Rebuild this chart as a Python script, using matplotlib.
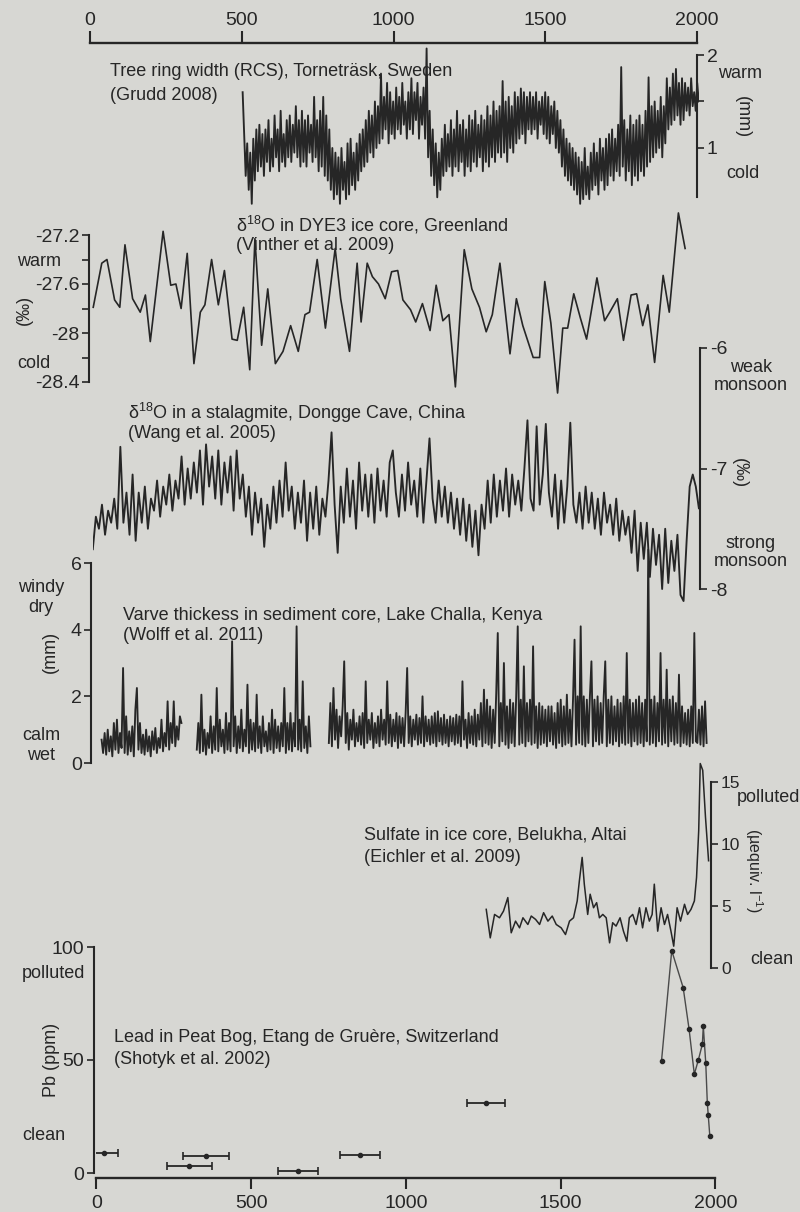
import numpy as np
import matplotlib
matplotlib.use("Agg")
import matplotlib.pyplot as plt

plt.rcParams['font.family'] = ['Liberation Sans', 'DejaVu Sans']
plt.rcParams['mathtext.fontset'] = 'custom'
plt.rcParams['mathtext.rm'] = 'Liberation Sans'
plt.rcParams['mathtext.it'] = 'Liberation Sans'

INK = '#262626'
BG = '#d7d7d3'

# ---------------- data ----------------
# Tree ring width (mm), Tornetrask, 5-year steps 500..2000
tree_years = list(range(500, 2001, 5))
tree_vals = [
    1.60, 1.15, 0.70, 1.05, 0.55, 0.95, 0.40, 1.10, 0.65, 1.20,
    0.75, 1.25, 0.80, 1.15, 0.70, 1.20, 0.85, 1.30, 0.75, 1.10,
    0.80, 1.35, 0.90, 1.20, 0.75, 1.40, 0.85, 1.15, 0.80, 1.30,
    0.90, 1.35, 0.85, 1.25, 0.95, 1.45, 0.90, 1.30, 0.80, 1.40,
    0.85, 1.30, 0.80, 1.35, 0.95, 1.25, 0.85, 1.55, 0.90, 1.30,
    0.75, 1.40, 0.80, 1.55, 0.70, 1.35, 0.65, 1.20, 0.55, 1.00,
    0.45, 0.95, 0.50, 0.90, 0.40, 1.00, 0.55, 0.85, 0.45, 1.05,
    0.50, 1.10, 0.60, 0.95, 0.55, 1.05, 0.65, 1.15, 0.75, 1.20,
    0.80, 1.30, 0.85, 1.40, 0.95, 1.35, 0.90, 1.50, 1.00, 1.45,
    1.05, 1.80, 1.10, 1.55, 1.20, 1.70, 1.05, 1.60, 1.15, 1.50,
    1.10, 1.65, 1.20, 1.55, 1.15, 1.70, 1.25, 1.50, 1.10, 1.60,
    1.20, 1.75, 1.15, 1.60, 1.30, 1.70, 1.10, 1.55, 1.25, 1.65,
    1.10, 2.07, 0.90, 1.40, 0.70, 1.20, 0.60, 1.05, 0.47, 0.95,
    0.55, 1.10, 0.70, 1.25, 0.75, 1.15, 0.80, 1.30, 0.70, 1.20,
    0.80, 1.40, 0.75, 1.25, 0.85, 1.30, 0.70, 1.20, 0.80, 1.35,
    0.75, 1.30, 0.85, 1.40, 0.80, 1.25, 0.90, 1.35, 0.75, 1.30,
    0.85, 1.45, 0.80, 1.35, 0.90, 1.50, 0.85, 1.40, 0.95, 1.45,
    0.90, 1.72, 0.95, 1.50, 0.85, 1.55, 1.00, 1.45, 0.95, 1.60,
    1.05, 1.55, 1.10, 1.64, 1.15, 1.60, 1.05, 1.55, 1.20, 1.60,
    1.15, 1.55, 1.20, 1.60, 1.10, 1.50, 1.25, 1.55, 1.15, 1.60,
    1.10, 1.55, 1.05, 1.45, 1.15, 1.50, 1.00, 1.40, 0.95, 1.30,
    0.80, 1.20, 0.70, 1.10, 0.65, 1.05, 0.60, 1.00, 0.55, 0.95,
    0.50, 0.90, 0.40, 0.85, 0.45, 1.00, 0.50, 0.80, 0.45, 0.95,
    0.55, 1.05, 0.60, 0.95, 0.50, 1.10, 0.65, 1.00, 0.55, 1.10,
    0.60, 1.15, 0.70, 1.20, 0.65, 1.10, 0.75, 1.25, 0.70, 1.87,
    0.80, 1.30, 0.65, 1.20, 0.75, 1.35, 0.60, 1.25, 0.70, 1.30,
    0.65, 1.35, 0.75, 1.25, 0.70, 1.40, 0.80, 1.76, 0.85, 1.45,
    0.90, 1.50, 0.95, 1.40, 1.00, 1.55, 0.90, 1.45, 1.05, 1.75,
    1.20, 1.65, 1.25, 1.80, 1.30, 1.85, 1.35, 1.70, 1.25, 1.75,
    1.30, 1.70, 1.40, 1.65, 1.35, 1.75, 1.45, 1.60, 1.40, 1.70,
    1.50,
]

# d18O DYE3 ice core (permil)
dye_years = [5, 33, 50, 75, 92, 109, 134, 159, 176, 192, 234, 259, 276, 293, 313,
             335, 356, 371, 393, 415, 435, 460, 477, 498, 518, 535, 557, 577, 602,
             627, 652, 677, 699, 714, 739, 766, 798, 816, 845, 870, 883, 903, 920,
             940, 962, 983, 1003, 1020, 1045, 1062, 1084, 1109, 1129, 1151, 1171,
             1192, 1221, 1246, 1271, 1293, 1313, 1338, 1355, 1371, 1392, 1413, 1447,
             1468, 1485, 1505, 1527, 1544, 1560, 1580, 1602, 1622, 1656, 1681, 1698,
             1723, 1743, 1768, 1786, 1806, 1823, 1845, 1873, 1893, 1923, 1945]
dye_vals = [-27.79, -27.43, -27.40, -27.73, -27.79, -27.28, -27.72, -27.83, -27.69,
            -28.07, -27.17, -27.61, -27.60, -27.80, -27.35, -28.25, -27.83, -27.77,
            -27.40, -27.77, -27.49, -28.05, -28.06, -27.79, -28.30, -27.23, -28.10,
            -27.64, -28.25, -28.15, -27.94, -28.15, -27.85, -27.83, -27.40, -27.96,
            -27.31, -27.72, -28.15, -27.43, -27.91, -27.43, -27.54, -27.60, -27.72,
            -27.50, -27.49, -27.73, -27.81, -27.91, -27.76, -27.98, -27.61, -27.90,
            -27.85, -28.44, -27.32, -27.64, -27.79, -27.99, -27.85, -27.43, -27.81,
            -28.17, -27.72, -27.94, -28.20, -28.20, -27.58, -27.92, -28.49, -27.96,
            -27.96, -27.68, -27.88, -28.05, -27.55, -27.90, -27.83, -27.72, -28.06,
            -27.69, -27.68, -27.94, -27.77, -28.24, -27.53, -27.83, -27.02, -27.31]

# d18O stalagmite Dongge Cave (permil), 10-year steps 0..1980
stal_years = list(range(0, 1981, 10))
stal_vals = [
    -7.67, -7.40, -7.50, -7.30, -7.55, -7.35, -7.45, -7.25, -7.50, -6.82,
    -7.45, -7.20, -7.55, -7.05, -7.60, -7.20, -7.45, -7.15, -7.50, -7.25,
    -7.35, -7.10, -7.40, -7.15, -7.30, -7.05, -7.35, -7.10, -7.25, -6.90,
    -7.30, -7.00, -7.25, -6.95, -7.20, -6.85, -7.30, -6.80, -7.15, -6.90,
    -7.25, -6.85, -7.30, -6.95, -7.20, -6.90, -7.35, -6.85, -7.25, -7.05,
    -7.40, -7.15, -7.55, -7.20, -7.45, -7.25, -7.65, -7.30, -7.50, -7.15,
    -7.45, -7.10, -7.40, -6.95, -7.35, -7.15, -7.50, -7.20, -7.45, -7.10,
    -7.60, -7.20, -7.50, -7.15, -7.55, -7.25, -7.40, -7.10, -6.70, -7.30,
    -7.70, -7.15, -7.45, -7.00, -7.40, -7.10, -7.50, -6.95, -7.35, -7.05,
    -7.40, -7.05, -7.45, -7.00, -7.35, -7.10, -7.40, -6.95, -6.85, -7.20,
    -7.40, -7.05, -7.35, -6.95, -7.30, -7.10, -7.40, -7.00, -7.45, -7.10,
    -6.75, -7.25, -7.45, -7.10, -7.40, -7.15, -7.45, -7.20, -7.50, -7.25,
    -7.55, -7.25, -7.60, -7.30, -7.65, -7.35, -7.72, -7.30, -7.50, -7.10,
    -7.45, -7.05, -7.40, -7.10, -7.35, -7.00, -7.40, -7.05, -7.30, -7.10,
    -7.35, -7.00, -6.60, -7.25, -7.35, -6.65, -7.30, -7.05, -6.63, -7.20,
    -7.40, -7.05, -7.50, -7.10, -7.45, -7.15, -6.62, -7.30, -7.45, -7.20,
    -7.50, -7.15, -7.45, -7.20, -7.50, -7.25, -7.55, -7.20, -7.45, -7.30,
    -7.55, -7.25, -7.60, -7.35, -7.55, -7.40, -7.70, -7.35, -7.85, -7.45,
    -7.75, -7.45, -7.90, -7.50, -7.80, -7.55, -8.00, -7.50, -7.95, -7.60,
    -7.85, -7.55, -8.05, -8.10, -7.60, -7.15, -7.05, -7.15, -7.33,
]

# Varve thickness (mm), Lake Challa, three core segments, 5-year steps
varve1_years = list(range(25, 286, 5))
varve1_vals = [
    0.70, 0.30, 0.90, 0.25, 1.00, 0.35, 0.80, 0.20, 1.20, 0.40,
    1.30, 0.30, 0.90, 0.45, 2.85, 0.30, 1.40, 0.25, 0.95, 0.35,
    1.10, 0.20, 1.60, 2.25, 0.40, 1.20, 0.30, 0.85, 0.25, 1.00,
    0.35, 0.80, 0.20, 0.95, 0.40, 1.05, 0.30, 0.75, 0.45, 1.30,
    0.35, 0.90, 0.50, 1.85, 0.40, 1.20, 0.60, 1.85, 0.50, 1.10,
    0.70, 1.40, 1.20,
]
varve2_years = list(range(335, 706, 5))
varve2_vals = [
    0.40, 1.20, 0.30, 2.05, 0.35, 1.00, 0.25, 0.90, 0.45, 1.40,
    0.30, 1.10, 0.40, 2.25, 0.35, 1.30, 0.50, 1.00, 0.30, 1.50,
    0.40, 1.20, 0.35, 3.65, 0.50, 1.40, 0.30, 1.10, 0.45, 1.60,
    0.35, 1.00, 0.50, 2.35, 0.30, 1.30, 0.40, 1.20, 0.35, 2.05,
    0.45, 1.10, 0.30, 1.40, 0.50, 0.95, 0.35, 1.20, 0.40, 1.60,
    0.30, 1.30, 0.45, 1.10, 0.35, 1.20, 0.50, 2.25, 0.30, 1.20,
    0.40, 1.50, 0.35, 1.20, 0.50, 4.10, 0.40, 1.30, 0.35, 2.45,
    0.45, 1.10, 0.30, 1.40, 0.50,
]
varve3_years = list(range(765, 1996, 5))
varve3_vals = [
    0.60, 1.80, 0.50, 2.25, 0.70, 1.60, 0.45, 1.40, 0.80, 1.70,
    3.05, 0.60, 1.50, 0.40, 1.30, 0.70, 1.60, 0.50, 1.20, 0.65,
    1.40, 0.55, 1.50, 0.45, 2.45, 0.60, 1.30, 0.70, 1.50, 0.45,
    1.20, 0.60, 1.40, 0.50, 1.60, 0.70, 1.30, 0.55, 2.45, 0.60,
    1.45, 0.50, 1.30, 0.65, 1.50, 0.45, 1.40, 0.60, 1.35, 0.50,
    1.50, 2.85, 0.60, 1.40, 0.50, 1.30, 0.70, 1.45, 0.55, 1.35,
    0.60, 2.00, 0.50, 1.40, 0.65, 1.30, 0.55, 1.40, 0.60, 1.50,
    0.50, 1.55, 0.65, 1.35, 0.55, 1.45, 0.60, 1.30, 0.50, 1.40,
    0.65, 1.35, 0.55, 1.45, 0.60, 1.40, 0.50, 2.45, 0.70, 1.30,
    0.45, 1.50, 0.60, 1.40, 0.55, 1.60, 0.50, 1.45, 0.70, 1.80,
    0.50, 2.20, 0.60, 1.90, 0.55, 1.70, 0.45, 1.60, 0.60, 2.10,
    3.90, 0.50, 1.80, 0.65, 3.00, 0.55, 1.70, 0.45, 1.90, 0.60,
    1.80, 0.50, 2.00, 4.10, 0.55, 1.90, 0.60, 2.90, 0.50, 1.80,
    0.65, 1.90, 0.55, 3.50, 0.60, 1.70, 0.45, 1.80, 0.55, 1.70,
    0.60, 1.60, 0.50, 1.70, 0.65, 1.70, 0.55, 1.50, 0.45, 1.80,
    0.60, 1.90, 0.50, 1.70, 0.55, 2.05, 0.60, 1.60, 0.50, 1.90,
    3.70, 0.55, 2.00, 0.60, 4.10, 0.55, 2.00, 0.50, 1.90, 0.60,
    2.00, 3.05, 0.50, 1.90, 0.65, 2.00, 0.55, 1.80, 0.60, 2.00,
    3.05, 0.50, 1.90, 0.60, 2.00, 0.55, 1.70, 0.65, 1.90, 0.50,
    1.80, 0.60, 2.00, 0.55, 3.30, 0.60, 1.90, 0.50, 1.80, 0.65,
    1.90, 0.55, 2.00, 0.60, 1.80, 0.50, 1.90, 0.65, 6.40, 0.55,
    1.90, 0.60, 2.00, 0.50, 1.80, 0.65, 3.30, 0.55, 1.90, 0.60,
    2.80, 0.50, 1.90, 0.65, 2.00, 0.55, 1.80, 0.60, 2.65, 0.50,
    1.70, 0.60, 1.50, 0.55, 1.60, 0.50, 1.70, 0.60, 3.90, 0.65,
    0.60, 1.60, 0.55, 1.70, 0.50, 1.85, 0.60,
]

# Sulfate in ice core, Belukha (uequiv/l)
sulf_years = [1268, 1281, 1295, 1311, 1324, 1338, 1349, 1363, 1376, 1387, 1403,
              1414, 1428, 1441, 1454, 1468, 1482, 1495, 1511, 1525, 1538, 1551,
              1563, 1570, 1579, 1586, 1597, 1605, 1616, 1626, 1635, 1646, 1657,
              1668, 1678, 1689, 1702, 1713, 1724, 1732, 1743, 1754, 1765, 1775,
              1786, 1797, 1806, 1813, 1824, 1835, 1846, 1856, 1867, 1876, 1887,
              1898, 1911, 1921, 1932, 1943, 1950, 1957, 1962, 1970, 1979, 1989]
sulf_vals = [4.73, 2.43, 4.32, 4.05, 4.59, 5.68, 2.84, 3.78, 3.24, 4.05, 3.51,
             4.19, 3.92, 3.51, 4.46, 3.78, 4.19, 3.51, 3.24, 2.70, 3.78, 4.05,
             5.41, 7.03, 8.92, 6.76, 4.32, 5.95, 4.86, 5.27, 4.05, 4.32, 4.05,
             2.03, 3.65, 3.38, 4.05, 2.97, 2.16, 4.05, 4.32, 3.51, 4.86, 3.24,
             4.86, 3.78, 4.32, 6.76, 2.97, 4.86, 3.51, 4.32, 2.97, 1.76, 4.86,
             3.78, 5.14, 4.32, 4.73, 5.41, 7.30, 11.08, 16.49, 15.95, 12.16, 8.65]

# Lead in peat bog (ppm): dated samples with age ranges, and recent profile
lead_err_years = [25, 300, 354, 651, 852, 1258]
lead_err_vals = [9.0, 3.0, 7.5, 1.0, 7.8, 30.8]
lead_err_xerr = [45, 73, 75, 65, 65, 62]
lead_years = [1826, 1859, 1896, 1915, 1932, 1945, 1958, 1961, 1969, 1974, 1977, 1982]
lead_vals = [49.6, 98.4, 82.0, 63.7, 43.7, 50.0, 57.0, 65.0, 48.5, 31.0, 25.6, 16.5]

year_ticks = [0, 500, 1000, 1500, 2000]

# ---------------- layout helpers ----------------
W, H = 800, 1212
fig = plt.figure(figsize=(W / 100, H / 100), dpi=100)
fig.patch.set_facecolor(BG)

TXT = 13      # annotation text size
TCK = 14      # tick label size


def xspan(y):
    x0 = 90 + 7 * (y - 33) / 1112
    x2 = 697 + 20 * (y - 33) / 1112
    return x0, x2


def panel(ytop, ybot, va, ya, vb, yb):
    x0, x2 = xspan((ytop + ybot) / 2)
    ax = fig.add_axes([x0 / W, 1 - ybot / H, (x2 - x0) / W, (ybot - ytop) / H])
    s = (va - vb) / (yb - ya)
    ax.set_xlim(0, 2000)
    ax.set_ylim(vb - (ybot - yb) * s, va + (ya - ytop) * s)
    ax.patch.set_alpha(0)
    for sp in ax.spines.values():
        sp.set_visible(False)
    ax.tick_params(bottom=False, labelbottom=False, left=False, labelleft=False,
                   colors=INK, labelsize=TCK, length=5, width=1.2)
    return ax


def yaxis(ax, side, xpos, lo, hi, major, labels, minor=None, size=TCK):
    sp = ax.spines[side]
    sp.set_visible(True)
    sp.set_position(('data', xpos))
    sp.set_bounds(lo, hi)
    sp.set_color(INK)
    sp.set_linewidth(1.5)
    ax.set_yticks(major)
    ax.set_yticklabels(labels)
    if minor is not None:
        ax.set_yticks(minor, minor=True)
    if side == 'right':
        ax.yaxis.tick_right()
        ax.tick_params(axis='y', which='both', right=True, labelright=True, pad=2)
    else:
        ax.tick_params(axis='y', which='both', left=True, labelleft=True, pad=2)
    ax.tick_params(axis='y', which='minor', length=5, width=1.2, color=INK)
    ax.tick_params(axis='y', which='major', labelsize=size)


def T(x, y, s, **kw):
    kw.setdefault('fontsize', TXT)
    kw.setdefault('color', INK)
    kw.setdefault('va', 'center')
    fig.text(x / W, 1 - y / H, s, **kw)


LW = 1.35

# ---------------- top year axis ----------------
x0, x2 = xspan(43)
axt = fig.add_axes([x0 / W, 1 - 43 / H, (x2 - x0) / W, 0.0001])
axt.set_xlim(0, 2000)
axt.patch.set_alpha(0)
for k, sp in axt.spines.items():
    sp.set_visible(k == 'top')
axt.spines['top'].set_color(INK)
axt.spines['top'].set_linewidth(1.7)
axt.xaxis.tick_top()
axt.set_xticks(year_ticks)
axt.set_yticks([])
axt.tick_params(axis='x', colors=INK, labelsize=TCK, length=9, width=1.5, pad=1)

# ---------------- tree ring ----------------
ax1 = panel(45, 215, 2, 55, 1, 148)
ax1.plot(tree_years, tree_vals, color=INK, lw=LW)
yaxis(ax1, 'right', 1995, 0.47, 2, [1, 2], ['1', '2'], minor=[1.5])
T(110, 72, 'Tree ring width (RCS), Torneträsk, Sweden')
T(110, 95, '(Grudd 2008)')
T(718, 73, 'warm')
T(726, 173, 'cold')
T(742, 117, '(mm)', rotation=270, ha='center')

# ---------------- DYE3 ----------------
ax2 = panel(200, 410, -27.2, 235, -28.4, 382)
ax2.plot(dye_years, dye_vals, color=INK, lw=1.2)
yaxis(ax2, 'left', -8, -28.4, -27.2, [-28.4, -28.0, -27.6, -27.2],
      ['-28.4', '-28', '-27.6', '-27.2'], minor=[-28.2, -27.8, -27.4])
T(236, 225, 'δ$^{18}$O in DYE3 ice core, Greenland')
T(236, 245, '(Vinther et al. 2009)')
T(17, 262, 'warm')
T(17, 363, 'cold')
T(24, 310, '(‰)', rotation=90, ha='center')

# ---------------- stalagmite ----------------
ax3 = panel(330, 625, -6, 348, -8, 589)
ax3.plot(stal_years, stal_vals, color=INK, lw=LW)
yaxis(ax3, 'right', 1985, -8, -6, [-8, -7, -6], ['-8', '-7', '-6'])
T(128, 413, 'δ$^{18}$O in a stalagmite, Dongge Cave, China')
T(128, 434, '(Wang et al. 2005)')
T(751, 367, 'weak', ha='center')
T(751, 385, 'monsoon', ha='center')
T(751, 543, 'strong', ha='center')
T(751, 562, 'monsoon', ha='center')
T(739, 473, '(‰)', rotation=270, ha='center')

# ---------------- varve ----------------
ax4 = panel(530, 775, 6, 563, 0, 763)
for yrs, vals in ((varve1_years, varve1_vals), (varve2_years, varve2_vals),
                  (varve3_years, varve3_vals)):
    ax4.plot(yrs, vals, color=INK, lw=LW)
yaxis(ax4, 'left', -8, 0, 6, [0, 2, 4, 6], ['0', '2', '4', '6'])
T(123, 615, 'Varve thickess in sediment core, Lake Challa, Kenya')
T(123, 636, '(Wolff et al. 2011)')
T(41, 588, 'windy', ha='center')
T(41, 608, 'dry', ha='center')
T(41, 735, 'calm', ha='center')
T(41, 755, 'wet', ha='center')
T(50, 652, '(mm)', rotation=90, ha='center')

# ---------------- sulfate ----------------
ax5 = panel(750, 980, 15, 782, 0, 968)
ax5.plot(sulf_years, sulf_vals, color=INK, lw=1.1)
yaxis(ax5, 'right', 1998, 0, 15, [0, 5, 10, 15], ['0', '5', '10', '15'], size=12.5)
T(364, 835, 'Sulfate in ice core, Belukha, Altai')
T(364, 857, '(Eichler et al. 2009)')
T(737, 798, 'polluted')
T(750, 960, 'clean')
T(754, 870, '(µequiv. l$^{-1}$)', rotation=270, ha='center', fontsize=11.5)

# ---------------- lead ----------------
ax6 = panel(930, 1178, 100, 947, 0, 1173)
ax6.errorbar(lead_err_years, lead_err_vals, xerr=lead_err_xerr, fmt='o', ms=3,
             color=INK, lw=1.3, capsize=3, capthick=1.2)
ax6.plot(lead_years, lead_vals, '-o', ms=3, color='#4a4a4a', lw=1.0, mfc=INK, mec=INK)
yaxis(ax6, 'left', -8, 0, 100, [0, 50, 100], ['0', '50', '100'])
sp = ax6.spines['bottom']
sp.set_visible(True)
sp.set_bounds(0, 2000)
sp.set_color(INK)
sp.set_linewidth(1.7)
ax6.set_xticks(year_ticks)
ax6.tick_params(axis='x', bottom=True, labelbottom=True, length=8, width=1.5,
                labelsize=TCK, pad=4)
T(114, 1038, 'Lead in Peat Bog, Etang de Gruère, Switzerland')
T(114, 1060, '(Shotyk et al. 2002)')
T(22, 973, 'polluted')
T(22, 1135, 'clean')
T(51, 1060, 'Pb (ppm)', rotation=90, ha='center')

fig.savefig('out.png', dpi=100, facecolor=BG)
